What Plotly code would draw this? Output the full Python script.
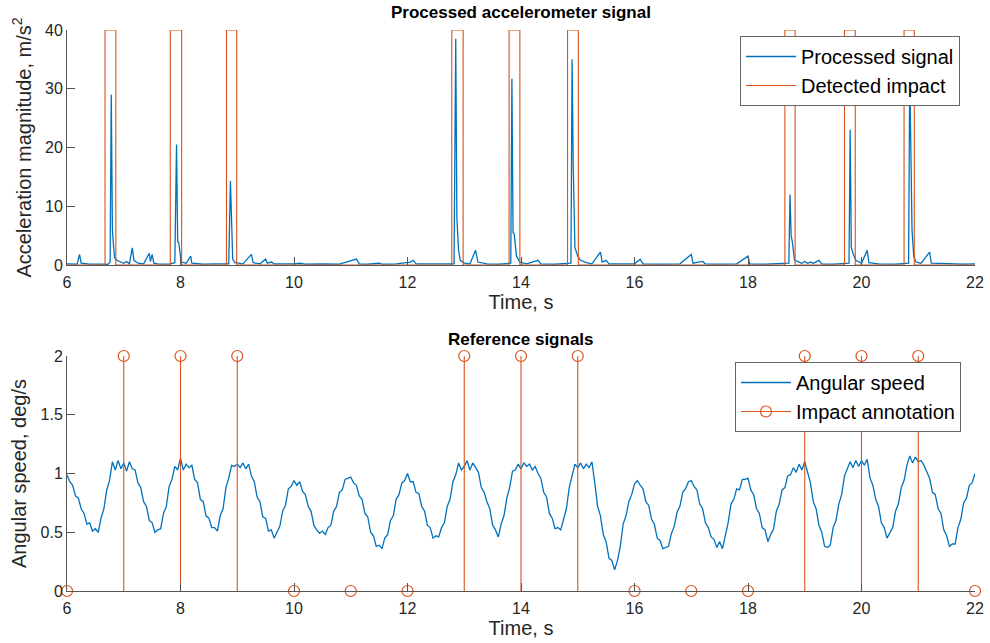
import plotly.graph_objects as go

# ---------------- data ----------------
# Processed accelerometer signal (sparse readings of time, magnitude m/s^2)
acc_t = [6.00, 6.10, 6.18, 6.22, 6.25, 6.40, 6.50, 6.60, 6.72, 6.76, 6.78, 6.80, 6.82, 6.84, 6.88, 6.95,
         7.00, 7.05, 7.10, 7.15, 7.18, 7.25, 7.35, 7.45, 7.47, 7.50, 7.53, 7.60, 7.70, 7.80, 7.90, 7.93,
         7.95, 7.97, 8.00, 8.02, 8.10, 8.18, 8.20, 8.30, 8.40, 8.60, 8.85, 8.88, 8.90, 8.92, 8.96, 9.10,
         9.25, 9.28, 9.40, 9.50, 9.53, 9.60, 9.65, 9.80, 10.00, 10.10, 10.20, 10.50, 10.80, 11.10, 11.15,
         11.30, 11.50, 11.55, 11.80, 12.05, 12.10, 12.15, 12.40, 12.60, 12.82, 12.85, 12.87, 12.90, 12.93,
         13.00, 13.10, 13.20, 13.24, 13.40, 13.60, 13.82, 13.84, 13.86, 13.88, 13.92, 13.98, 14.10, 14.30,
         14.35, 14.60, 14.88, 14.90, 14.92, 14.95, 15.00, 15.05, 15.15, 15.25, 15.40, 15.43, 15.50, 15.55,
         15.80, 16.00, 16.10, 16.15, 16.50, 16.80, 17.00, 17.03, 17.20, 17.25, 17.50, 17.80, 18.00, 18.03,
         18.30, 18.60, 18.72, 18.74, 18.76, 18.78, 18.82, 18.90, 18.95, 19.00, 19.05, 19.10, 19.15, 19.25,
         19.30, 19.50, 19.78, 19.80, 19.82, 19.85, 19.90, 20.00, 20.10, 20.13, 20.30, 20.60, 20.83, 20.85,
         20.87, 20.89, 20.92, 20.96, 21.05, 21.20, 21.23, 21.50, 21.80, 22.00]
acc_v = [0.20, 0.15, 0.15, 1.80, 0.30, 0.15, 0.20, 0.15, 0.10, 0.50, 29.0, 6.0, 3.2, 1.2, 0.8, 0.5,
         0.3, 0.6, 0.2, 2.9, 0.8, 0.3, 0.2, 2.0, 0.6, 1.8, 0.3, 0.2, 0.15, 0.15, 0.4, 20.5,
         4.0, 3.8, 1.4, 0.5, 0.3, 1.5, 0.3, 0.2, 0.15, 0.2, 0.2, 14.3, 9.0, 1.0, 0.4, 0.2,
         1.8, 0.4, 0.2, 1.0, 0.3, 0.5, 0.2, 0.15, 0.2, 0.3, 0.15, 0.2, 0.15, 1.0, 0.2,
         0.15, 0.3, 0.15, 0.2, 0.5, 0.8, 0.2, 0.15, 0.2, 0.2, 38.5, 8.0, 2.5, 0.8,
         0.3, 0.2, 2.5, 0.5, 0.2, 0.15, 0.3, 31.7, 5.5, 5.3, 1.5, 0.5, 0.2, 0.8,
         0.2, 0.15, 0.3, 35.0, 17.0, 3.0, 1.5, 0.8, 0.4, 0.2, 2.2, 0.5, 0.8, 0.2,
         0.15, 0.2, 1.0, 0.2, 0.15, 0.2, 1.8, 0.3, 0.6, 0.2, 0.15, 0.2, 1.5, 0.2,
         0.15, 0.2, 0.3, 12.0, 5.0, 4.0, 0.8, 0.5, 0.3, 0.6, 0.3, 0.5, 0.3, 0.8,
         0.2, 0.15, 0.3, 23.0, 3.0, 2.0, 0.8, 0.3, 2.5, 0.4, 0.2, 0.15, 0.3, 33.0,
         13.0, 6.0, 1.5, 0.5, 0.3, 2.2, 0.3, 0.2, 0.15, 0.2]

# Detected impact windows (start / end times, s) and detector level
impact_start = [6.67, 7.82, 8.81, 12.78, 13.79, 14.82, 18.65, 19.70, 20.75]
impact_end = [6.86, 8.02, 8.99, 12.98, 13.98, 15.01, 18.83, 19.89, 20.93]
impact_level = 40

# Angular speed (deg/s), sampled every 0.05 s from 6 to 22 s
ang_t0 = 6.0
ang_dt = 0.05
ang_v = [
    0.99, 0.93, 0.90, 0.81, 0.79, 0.70, 0.66, 0.57, 0.58, 0.51, 0.53, 0.50, 0.62, 0.70, 0.86, 0.94, 1.10, 1.03, 1.11, 1.04,
    1.09, 1.02, 1.10, 1.04, 1.03, 0.92, 0.88, 0.76, 0.72, 0.60, 0.58, 0.50, 0.52, 0.53, 0.66, 0.72, 0.89, 0.95, 1.06, 1.03,
    1.13, 1.03, 1.08, 1.05, 1.07, 0.95, 0.92, 0.78, 0.76, 0.64, 0.62, 0.54, 0.54, 0.51, 0.64, 0.70, 0.88, 0.96, 1.07, 1.06,
    1.08, 1.05, 1.09, 1.04, 1.08, 0.98, 0.93, 0.80, 0.76, 0.63, 0.62, 0.51, 0.52, 0.45, 0.50, 0.55, 0.68, 0.73, 0.87, 0.89,
    0.94, 0.90, 0.93, 0.85, 0.82, 0.72, 0.68, 0.56, 0.52, 0.49, 0.51, 0.48, 0.54, 0.56, 0.68, 0.72, 0.84, 0.86, 0.95, 0.96,
    0.97, 0.92, 0.90, 0.81, 0.78, 0.66, 0.63, 0.50, 0.47, 0.38, 0.39, 0.36, 0.45, 0.48, 0.60, 0.64, 0.78, 0.82, 0.92, 0.94,
    1.00, 0.93, 0.93, 0.84, 0.83, 0.72, 0.68, 0.56, 0.54, 0.45, 0.47, 0.46, 0.54, 0.58, 0.72, 0.78, 0.93, 0.99, 1.09, 1.03,
    1.06, 1.11, 1.03, 1.09, 1.05, 1.01, 0.88, 0.84, 0.76, 0.70, 0.56, 0.52, 0.46, 0.57, 0.64, 0.79, 0.88, 1.02, 1.03, 1.08,
    1.04, 1.09, 1.06, 1.08, 1.03, 1.06, 1.00, 0.96, 0.84, 0.80, 0.66, 0.62, 0.53, 0.54, 0.52, 0.62, 0.70, 0.88, 0.98, 1.08,
    1.05, 1.09, 1.04, 1.08, 1.05, 1.10, 0.92, 0.72, 0.64, 0.48, 0.42, 0.28, 0.26, 0.18, 0.26, 0.38, 0.57, 0.64, 0.76, 0.82,
    0.91, 0.94, 0.90, 0.87, 0.76, 0.73, 0.61, 0.57, 0.45, 0.43, 0.36, 0.37, 0.38, 0.49, 0.55, 0.67, 0.72, 0.84, 0.87, 0.93,
    0.94, 0.89, 0.86, 0.74, 0.70, 0.58, 0.54, 0.46, 0.44, 0.37, 0.42, 0.36, 0.48, 0.58, 0.74, 0.78, 0.87, 0.86, 0.95, 0.95,
    0.96, 0.86, 0.82, 0.70, 0.66, 0.54, 0.52, 0.42, 0.48, 0.53, 0.68, 0.74, 0.86, 0.88, 0.98, 0.99, 1.05, 1.01, 1.08, 1.03,
    1.10, 1.00, 0.92, 0.76, 0.70, 0.56, 0.50, 0.38, 0.37, 0.39, 0.54, 0.60, 0.74, 0.82, 0.98, 1.04, 1.10, 1.05, 1.11, 1.06,
    1.11, 1.07, 1.12, 0.96, 0.90, 0.78, 0.72, 0.58, 0.54, 0.45, 0.49, 0.54, 0.68, 0.74, 0.88, 0.94, 1.07, 1.15, 1.09, 1.14,
    1.10, 1.11, 1.07, 1.01, 0.96, 0.84, 0.82, 0.70, 0.66, 0.52, 0.47, 0.38, 0.40, 0.40, 0.54, 0.61, 0.75, 0.79, 0.90, 0.92,
    1.00,
]

# Impact annotation (stem plot)
annot_t = [6, 7, 8, 9, 10, 11, 12, 13, 14, 15, 16, 17, 18, 19, 20, 21, 22]
annot_v = [0, 2, 2, 2, 0, 0, 0, 2, 2, 2, 0, 0, 0, 2, 2, 2, 0]

# ---------------- styling ----------------
BLUE = "#0072BD"
ORANGE = "#D95319"
AX = "#555555"
TXT = "#262626"
FONT = "Liberation Sans, Arial, Helvetica, sans-serif"

W, H = 990, 643
def py(px):
    return 1 - px / H

# step waveform for detected impacts
imp_x = [6.0]
imp_y = [0]
for s, e in zip(impact_start, impact_end):
    imp_x += [s, s, e, e]
    imp_y += [0, impact_level, impact_level, 0]
imp_x.append(22.0)
imp_y.append(0)

ang_t = [round(ang_t0 + i * ang_dt, 4) for i in range(len(ang_v))]

stem_x, stem_y = [], []
for t, v in zip(annot_t, annot_v):
    stem_x += [t, t, None]
    stem_y += [0, v, None]

fig = go.Figure()

fig.add_trace(go.Scatter(x=acc_t, y=acc_v, mode="lines", name="Processed signal",
                         line=dict(color=BLUE, width=1.3), xaxis="x", yaxis="y", legend="legend"))
fig.add_trace(go.Scatter(x=imp_x, y=imp_y, mode="lines", name="Detected impact",
                         line=dict(color=ORANGE, width=1.1), xaxis="x", yaxis="y", legend="legend",
                         cliponaxis=False))

fig.add_trace(go.Scatter(x=ang_t, y=ang_v, mode="lines", name="Angular speed",
                         line=dict(color=BLUE, width=1.3), xaxis="x2", yaxis="y2", legend="legend2"))
fig.add_trace(go.Scatter(x=stem_x, y=stem_y, mode="lines", showlegend=False,
                         line=dict(color=ORANGE, width=1.1), xaxis="x2", yaxis="y2"))
fig.add_trace(go.Scatter(x=annot_t, y=annot_v, mode="markers", showlegend=False,
                         marker=dict(symbol="circle-open", size=11, color=ORANGE, line=dict(width=1.2)),
                         xaxis="x2", yaxis="y2", cliponaxis=False))
fig.add_trace(go.Scatter(x=[None], y=[None], mode="lines+markers", name="Impact annotation",
                         line=dict(color=ORANGE, width=1.1),
                         marker=dict(symbol="circle-open", size=11, color=ORANGE, line=dict(width=1.2)),
                         xaxis="x2", yaxis="y2", legend="legend2"))

xdom = [67 / W, 975 / W]
common_x = dict(range=[6, 22], tickvals=list(range(6, 23, 2)), ticks="inside", ticklen=8,
                tickcolor=AX, showline=True, linecolor=AX, linewidth=1, showgrid=False, zeroline=False,
                tickfont=dict(family=FONT, size=16, color=TXT), domain=xdom, mirror=False, automargin=False,
                ticklabelstandoff=3,
                title=dict(text="Time, s", font=dict(family=FONT, size=20, color=TXT), standoff=4))
common_y = dict(ticks="inside", ticklen=8, tickcolor=AX, showline=True, linecolor=AX, linewidth=1,
                showgrid=False, zeroline=False, automargin=False,
                tickfont=dict(family=FONT, size=16, color=TXT))

fig.update_layout(
    width=W, height=H,
    margin=dict(l=0, r=0, t=0, b=0, autoexpand=False),
    paper_bgcolor="white", plot_bgcolor="white",
    font=dict(family=FONT, color=TXT),
    xaxis=dict(**common_x, anchor="y"),
    yaxis=dict(**common_y, range=[0, 40], tickvals=[0, 10, 20, 30, 40], anchor="x",
               domain=[py(265), py(30)],
               title=dict(text="Acceleration magnitude, m/s<sup>2</sup>",
                          font=dict(family=FONT, size=20, color=TXT), standoff=8)),
    xaxis2=dict(**common_x, anchor="y2"),
    yaxis2=dict(**common_y, range=[0, 2], tickvals=[0, 0.5, 1, 1.5, 2], ticktext=["0", "0.5", "1", "1.5", "2"],
                anchor="x2", domain=[py(591), py(356)],
                title=dict(text="Angular speed, deg/s", font=dict(family=FONT, size=20, color=TXT), standoff=8)),
    legend=dict(x=960 / W, y=py(71), xanchor="right", yanchor="middle", bgcolor="white",
                bordercolor="#666666", borderwidth=1, font=dict(family=FONT, size=20, color="#000000"),
                tracegroupgap=0, itemwidth=50),
    legend2=dict(x=961 / W, y=py(397), xanchor="right", yanchor="middle", bgcolor="white",
                 bordercolor="#666666", borderwidth=1, font=dict(family=FONT, size=20, color="#000000"),
                 tracegroupgap=0, itemwidth=50),
    annotations=[
        dict(text="<b>Processed accelerometer signal</b>", x=521 / W, y=py(13), xref="paper", yref="paper",
             showarrow=False, font=dict(family=FONT, size=17, color="#000000"), xanchor="center", yanchor="middle"),
        dict(text="<b>Reference signals</b>", x=521 / W, y=py(340), xref="paper", yref="paper",
             showarrow=False, font=dict(family=FONT, size=17, color="#000000"), xanchor="center", yanchor="middle"),
    ],
)

fig.write_html("out.html")
